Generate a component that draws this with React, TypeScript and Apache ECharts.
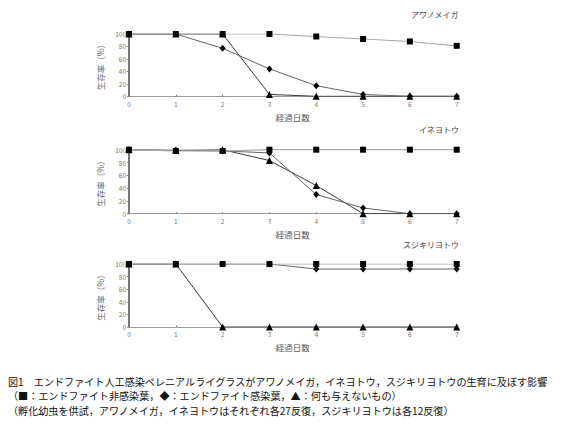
import React, { useEffect, useRef } from "react";
import * as echarts from "echarts";

const days = [0, 1, 2, 3, 4, 5, 6, 7];
const yTicks = [0, 20, 40, 60, 80, 100];

const panelTitles = ["アワノメイガ", "イネヨトウ", "スジキリヨトウ"];

// Panel 1: アワノメイガ
const awaSquare = [100, 100, 100, 100, 96, 92, 88, 81];
const awaDiamond = [100, 100, 77, 44, 17, 3, 0, 0];
const awaTriangle = [100, 100, 100, 3, 0, 0, 0, 0];

// Panel 2: イネヨトウ
const ineSquare = [100, 98, 98, 100, 100, 100, 100, 100];
const ineDiamond = [100, 99, 98, 95, 30, 9, 0, 0];
const ineTriangle = [100, 99, 100, 83, 44, 0, 0, 0];

// Panel 3: スジキリヨトウ
const sujiSquare = [100, 100, 100, 100, 100, 100, 100, 100];
const sujiDiamond = [100, 100, 100, 100, 92, 92, 92, 92];
const sujiTriangle = [100, 100, 0, 0, 0, 0, 0, 0];

const captionLines = [
  "図1　エンドファイト人工感染ペレニアルライグラスがアワノメイガ，イネヨトウ，スジキリヨトウの生育に及ぼす影響",
  "（■：エンドファイト非感染葉，◆：エンドファイト感染葉，▲：何も与えないもの）",
  "（孵化幼虫を供試，アワノメイガ，イネヨトウはそれぞれ各27反復，スジキリヨトウは各12反復）",
];

const xAxisName = "経過日数";
const yAxisName = "生存率（%）";

const FONT = "'Noto Sans CJK JP', 'Noto Sans', sans-serif";

export default function App() {
  const ref = useRef<HTMLDivElement>(null);

  useEffect(() => {
    if (!ref.current) return;
    const chart = echarts.init(ref.current, undefined, { renderer: "svg" });

    const panels = [
      { sq: awaSquare, di: awaDiamond, tr: awaTriangle },
      { sq: ineSquare, di: ineDiamond, tr: ineTriangle },
      { sq: sujiSquare, di: sujiDiamond, tr: sujiTriangle },
    ];
    const gridTops = [34, 149.7, 264];
    const gridHeights = [62.3, 64, 63];
    const titleYs = [15, 130.5, 245];

    const grids = gridTops.map((t, i) => ({
      left: 129,
      width: 327.7,
      top: t,
      height: gridHeights[i],
      containLabel: false,
    }));

    const xAxes = panels.map((_, i) => ({
      type: "value",
      gridIndex: i,
      min: 0,
      max: 7,
      interval: 1,
      name: xAxisName,
      nameLocation: "middle",
      nameGap: 16,
      nameTextStyle: { fontSize: 8.5, color: "#555", fontFamily: FONT, verticalAlign: "top" },
      axisLine: { show: true, lineStyle: { color: "#9a9a9a", width: 1 } },
      axisTick: { show: true, length: 1.5, inside: true, lineStyle: { color: "#777" } },
      axisLabel: { fontSize: 6.5, color: "#777", margin: 4, fontFamily: FONT },
      splitLine: { show: false },
    }));

    const yAxes = panels.map((_, i) => ({
      type: "value",
      gridIndex: i,
      min: yTicks[0],
      max: yTicks[yTicks.length - 1],
      interval: 20,
      name: yAxisName,
      nameLocation: "middle",
      nameGap: 25,
      nameRotate: 90,
      nameTextStyle: { fontSize: 8.5, color: "#666", fontFamily: FONT },
      axisLine: { show: true, lineStyle: { color: "#555", width: 1.6 } },
      axisTick: { show: true, length: 2, lineStyle: { color: "#888" } },
      axisLabel: { fontSize: 6.5, color: "#777", margin: 3, fontFamily: FONT },
      splitLine: { show: false },
    }));

    const series: any[] = [];
    panels.forEach((p, i) => {
      series.push({
        type: "line",
        xAxisIndex: i,
        yAxisIndex: i,
        data: days.map((d, k) => [d, p.tr[k]]),
        symbol: "triangle",
        symbolSize: 7,
        itemStyle: { color: "#000" },
        lineStyle: { color: "#3a3a3a", width: 1 },
        z: 2,
      });
      series.push({
        type: "line",
        xAxisIndex: i,
        yAxisIndex: i,
        data: days.map((d, k) => [d, p.di[k]]),
        symbol: "diamond",
        symbolSize: [6, 7],
        itemStyle: { color: "#000" },
        lineStyle: { color: "#666", width: 1 },
        z: 3,
      });
      series.push({
        type: "line",
        xAxisIndex: i,
        yAxisIndex: i,
        data: days.map((d, k) => [d, p.sq[k]]),
        symbol: "rect",
        symbolSize: 6,
        itemStyle: { color: "#000" },
        lineStyle: { color: "#aaa", width: 1.2 },
        z: 4,
      });
    });

    const titles = panelTitles.map((t, i) => ({
      text: t,
      right: 584 - 459,
      top: titleYs[i] - 5,
      textStyle: { fontSize: 8, fontWeight: "normal", color: "#444", fontFamily: FONT },
      padding: 0,
    }));

    const captionYs = [381, 395.6, 410.2];
    const graphic = captionLines.map((line, i) => ({
      type: "text",
      left: 8,
      top: captionYs[i] - 5,
      style: {
        text: line,
        fontSize: 10.1,
        fill: "#111",
        fontFamily: FONT,
      },
    }));

    chart.setOption({
      animation: false,
      backgroundColor: "#fff",
      title: titles,
      grid: grids,
      xAxis: xAxes,
      yAxis: yAxes,
      series,
      graphic,
    });

    return () => chart.dispose();
  }, []);

  return (
    <div
      ref={ref}
      style={{ position: "absolute", left: 0, top: 0, width: 584, height: 427 }}
    />
  );
}
